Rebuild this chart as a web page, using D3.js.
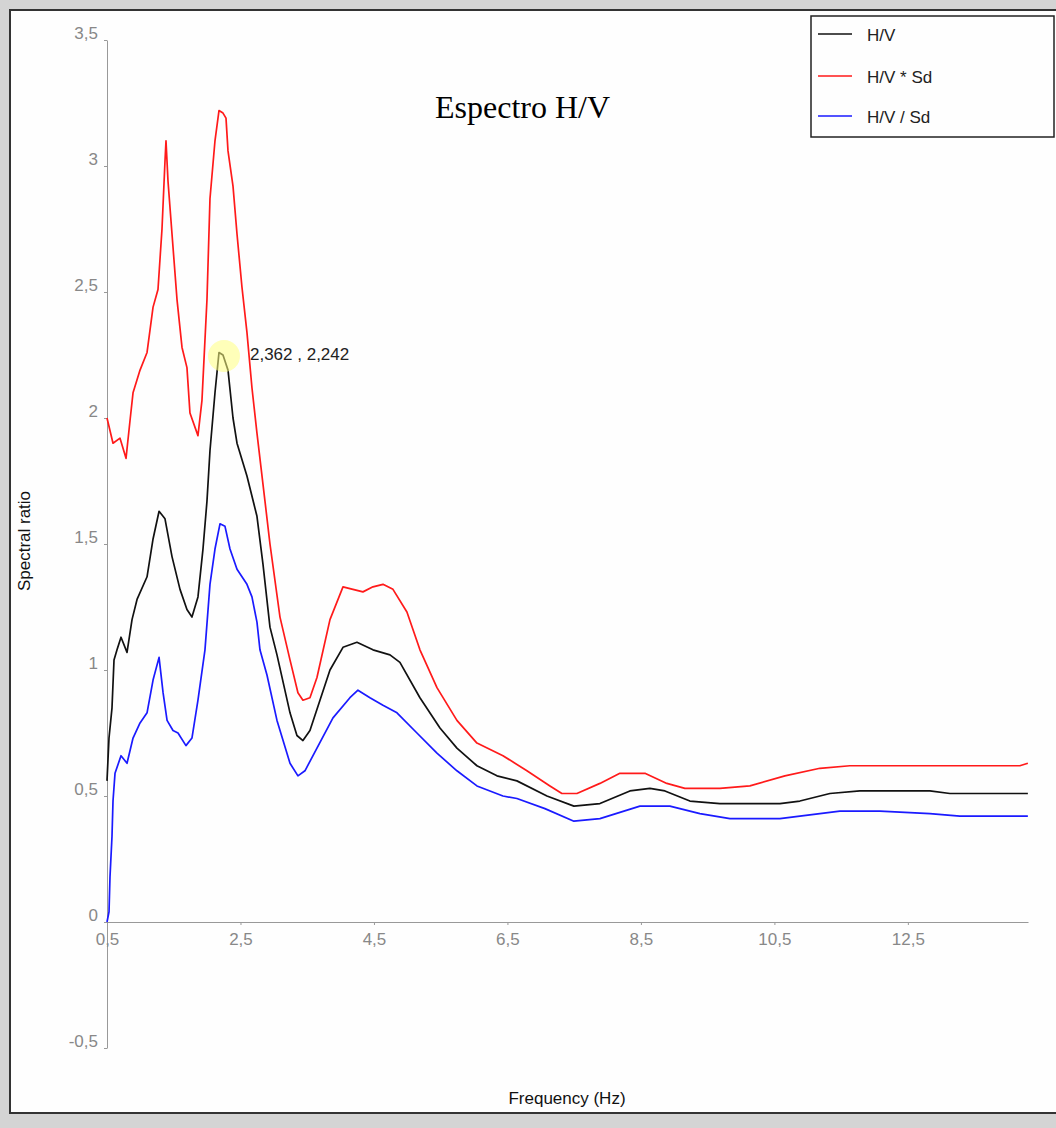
<!DOCTYPE html>
<html><head><meta charset="utf-8">
<script src="https://cdn.jsdelivr.net/npm/d3@7"></script>
<style>
html,body{margin:0;padding:0;background:#d4d4d4;}
svg{display:block;}
</style></head>
<body>
<svg id="chart" width="1056" height="1128"></svg>
<script>
// ---------- data ----------
const seriesNames = ["H/V", "H/V * Sd", "H/V / Sd"];
const seriesColors = ["#111111", "#ff1a1a", "#1a1aff"];

const freqHV = [0.50,0.53,0.575,0.605,0.65,0.71,0.80,0.875,0.95,1.10,1.19,1.28,1.369,1.474,1.594,1.698,1.773,1.863,1.938,1.998,2.043,2.118,2.178,2.238,2.313,2.388,2.448,2.597,2.747,2.837,2.942,3.047,3.242,3.346,3.436,3.541,3.691,3.841,4.036,4.245,4.485,4.740,4.889,5.189,5.489,5.743,6.043,6.343,6.642,7.092,7.496,7.886,8.335,8.635,8.860,9.234,9.684,10.583,10.882,11.332,11.781,12.830,13.130,14.298];
const valHV  = [0.56,0.73,0.85,1.04,1.08,1.13,1.07,1.20,1.28,1.37,1.52,1.63,1.60,1.45,1.32,1.24,1.21,1.29,1.48,1.67,1.87,2.10,2.26,2.25,2.19,2.00,1.90,1.77,1.61,1.42,1.17,1.06,0.83,0.74,0.72,0.76,0.88,1.00,1.09,1.11,1.08,1.06,1.03,0.89,0.77,0.69,0.62,0.58,0.56,0.50,0.46,0.47,0.52,0.53,0.52,0.48,0.47,0.47,0.48,0.51,0.52,0.52,0.51,0.51];

const freqMul = [0.50,0.59,0.695,0.785,0.845,0.89,0.995,1.10,1.19,1.264,1.324,1.369,1.384,1.414,1.474,1.549,1.624,1.698,1.743,1.863,1.923,1.998,2.043,2.118,2.178,2.238,2.283,2.313,2.388,2.448,2.522,2.597,2.672,2.747,2.867,2.942,3.092,3.242,3.361,3.436,3.541,3.646,3.841,4.036,4.185,4.335,4.485,4.635,4.785,4.994,5.189,5.444,5.743,6.043,6.433,6.792,7.137,7.316,7.541,7.886,8.185,8.560,8.889,9.159,9.684,10.133,10.657,11.182,11.631,14.178,14.298];
const valMul  = [2.00,1.90,1.92,1.84,1.99,2.10,2.19,2.26,2.44,2.51,2.75,3.02,3.10,2.94,2.73,2.47,2.28,2.20,2.02,1.93,2.07,2.47,2.87,3.10,3.22,3.21,3.19,3.06,2.92,2.73,2.52,2.34,2.12,1.94,1.67,1.50,1.21,1.04,0.91,0.88,0.89,0.97,1.20,1.33,1.32,1.31,1.33,1.34,1.32,1.23,1.08,0.93,0.80,0.71,0.66,0.60,0.54,0.51,0.51,0.55,0.59,0.59,0.55,0.53,0.53,0.54,0.58,0.61,0.62,0.62,0.63];

const freqDiv = [0.50,0.53,0.545,0.575,0.59,0.62,0.71,0.80,0.89,0.995,1.10,1.19,1.28,1.34,1.40,1.489,1.564,1.683,1.773,1.863,1.968,2.043,2.118,2.193,2.268,2.343,2.448,2.597,2.672,2.747,2.792,2.897,3.047,3.242,3.361,3.466,3.646,3.886,4.140,4.260,4.440,4.635,4.845,5.144,5.444,5.743,6.043,6.433,6.642,7.062,7.496,7.886,8.485,8.934,9.384,9.834,10.583,10.882,11.481,12.081,12.830,13.279,14.298];
const valDiv  = [0.00,0.04,0.18,0.34,0.48,0.59,0.66,0.63,0.73,0.79,0.83,0.96,1.05,0.91,0.80,0.76,0.75,0.70,0.73,0.88,1.08,1.34,1.48,1.58,1.57,1.48,1.40,1.34,1.29,1.19,1.08,0.98,0.80,0.63,0.58,0.60,0.69,0.81,0.89,0.92,0.89,0.86,0.83,0.75,0.67,0.60,0.54,0.50,0.49,0.45,0.40,0.41,0.46,0.46,0.43,0.41,0.41,0.42,0.44,0.44,0.43,0.42,0.42];

const xTicks = [0.5, 2.5, 4.5, 6.5, 8.5, 10.5, 12.5];
const yTicks = [-0.5, 0, 0.5, 1, 1.5, 2, 2.5, 3, 3.5];
const xDomain = [0.5, 14.3];
const yDomain = [-0.5, 3.5];

const markerFreq = 2.253, markerVal = 2.246;
const markerLabel = "2,362 , 2,242";
const titleText = "Espectro H/V";
const xTitle = "Frequency (Hz)";
const yTitle = "Spectral ratio";

// ---------- drawing ----------
const svg = d3.select("#chart");
const sans = "'Liberation Sans', Arial, sans-serif";

// panel frame
svg.append("rect").attr("x", 0).attr("y", 0).attr("width", 1056).attr("height", 1128).attr("fill", "#d4d4d4");
svg.append("rect").attr("x", 10).attr("y", 10).attr("width", 1060).attr("height", 1103)
  .attr("fill", "#fefefe").attr("stroke", "#333").attr("stroke-width", 2);

const x = d3.scaleLinear().domain(xDomain).range([107, 1028]);
const y = d3.scaleLinear().domain(yDomain).range([1048, 40]);

const loc = d3.formatLocale({decimal: ",", thousands: ".", grouping: [3], currency: ["", ""], minus: "-"});
const fmt = v => Number.isInteger(v) ? loc.format("d")(v) : loc.format(".1f")(v);

// y axis
const gy = svg.append("g").attr("transform", "translate(107,0)")
  .call(d3.axisLeft(y).tickValues(yTicks).tickFormat(fmt).tickSize(3).tickPadding(5).tickSizeOuter(0));
gy.select(".domain").attr("stroke", "#999");
gy.selectAll(".tick line").attr("stroke", "#999");
gy.selectAll(".tick text").attr("fill", "#888").attr("font-family", sans).attr("font-size", 17)
  .attr("dy", null).attr("y", -2).attr("x", -9);

// x axis at y=0
const gx = svg.append("g").attr("transform", `translate(0,${y(0)})`)
  .call(d3.axisBottom(x).tickValues(xTicks).tickFormat(fmt).tickSize(3).tickPadding(8).tickSizeOuter(0));
gx.select(".domain").attr("stroke", "#999");
gx.selectAll(".tick line").attr("stroke", "#999");
gx.selectAll(".tick text").attr("fill", "#888").attr("font-family", sans).attr("font-size", 17);

// lines
const line = d3.line().x(d => x(d[0])).y(d => y(d[1]));
const series = [d3.zip(freqHV, valHV), d3.zip(freqMul, valMul), d3.zip(freqDiv, valDiv)];
// draw order: red, black, blue
[1, 0, 2].forEach(i => {
  svg.append("path").datum(series[i]).attr("d", line)
    .attr("fill", "none").attr("stroke", seriesColors[i]).attr("stroke-width", 1.7)
    .attr("stroke-linejoin", "round");
});

// hover marker
svg.append("circle").attr("cx", x(markerFreq)).attr("cy", y(markerVal)).attr("r", 16)
  .attr("fill", "#ffff80").attr("fill-opacity", 0.55);
svg.append("text").attr("x", x(markerFreq) + 26).attr("y", y(markerVal) + 4)
  .attr("font-family", sans).attr("font-size", 17).attr("fill", "#222").text(markerLabel);

// title
svg.append("text").attr("x", 435).attr("y", 118).attr("font-family", "'Liberation Serif', 'Times New Roman', serif")
  .attr("font-size", 32).attr("fill", "#000").text(titleText);

// axis titles
svg.append("text").attr("x", 567).attr("y", 1104).attr("text-anchor", "middle")
  .attr("font-family", sans).attr("font-size", 17).attr("fill", "#111").text(xTitle);
svg.append("text").attr("transform", "translate(30,541) rotate(-90)").attr("text-anchor", "middle")
  .attr("font-family", sans).attr("font-size", 17).attr("fill", "#111").text(yTitle);

// legend
const lg = svg.append("g");
lg.append("rect").attr("x", 811).attr("y", 16).attr("width", 243).attr("height", 121)
  .attr("fill", "#fefefe").attr("stroke", "#222").attr("stroke-width", 1.5);
const legY = [34, 76, 116];
seriesNames.forEach((n, i) => {
  lg.append("line").attr("x1", 818).attr("x2", 852).attr("y1", legY[i]).attr("y2", legY[i])
    .attr("stroke", seriesColors[i]).attr("stroke-width", 1.7);
  lg.append("text").attr("x", 867).attr("y", legY[i] + 7).attr("font-family", sans)
    .attr("font-size", 17).attr("fill", "#222").text(n);
});
</script>
</body></html>
